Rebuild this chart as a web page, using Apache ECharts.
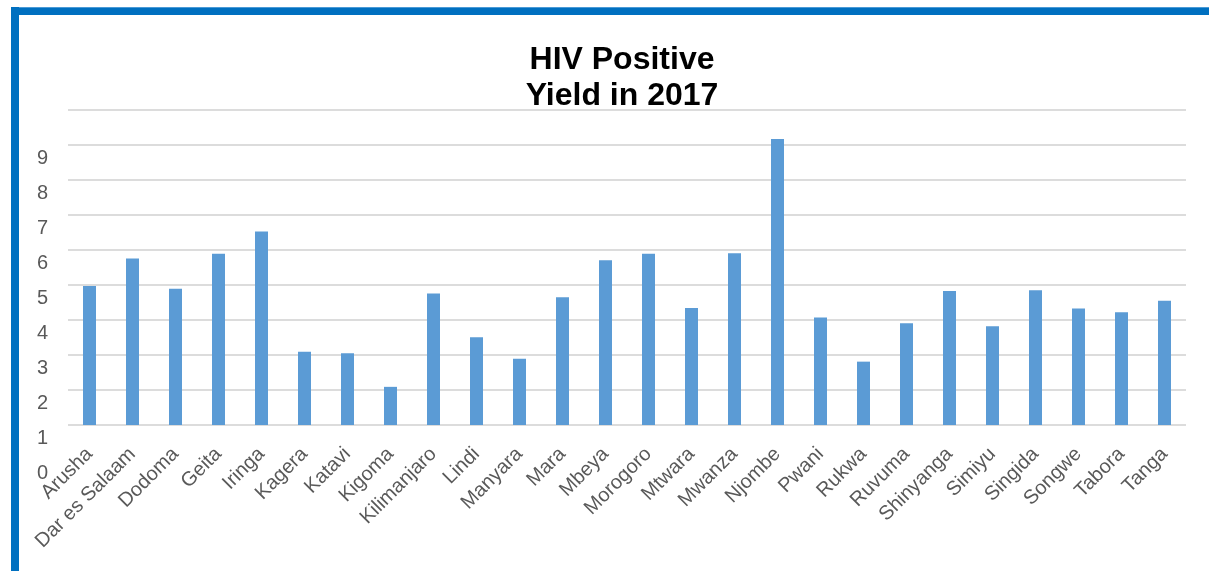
<!DOCTYPE html>
<html>
<head>
<meta charset="utf-8">
<script src="https://cdn.jsdelivr.net/npm/echarts@6/dist/echarts.min.js"></script>
<style>
  html, body { margin: 0; padding: 0; background: #fff; }
  #chart { width: 1209px; height: 571px; }
</style>
</head>
<body>
<div id="chart"></div>
<script>
// regions along the x axis
var regions = ['Arusha', 'Dar es Salaam', 'Dodoma', 'Geita', 'Iringa', 'Kagera', 'Katavi', 'Kigoma',
  'Kilimanjaro', 'Lindi', 'Manyara', 'Mara', 'Mbeya', 'Morogoro', 'Mtwara', 'Mwanza', 'Njombe',
  'Pwani', 'Rukwa', 'Ruvuma', 'Shinyanga', 'Simiyu', 'Singida', 'Songwe', 'Tabora', 'Tanga'];
// bar heights, read against the gridlines
var yieldValues = [3.97, 4.76, 3.89, 4.89, 5.53, 2.09, 2.05, 1.09,
  3.76, 2.51, 1.89, 3.65, 4.71, 4.89, 3.34, 4.91, 8.17,
  3.07, 1.81, 2.91, 3.83, 2.82, 3.85, 3.33, 3.22, 3.55];
// tick labels as printed on the left (they sit lower than the gridlines in the original)
var tickLabels = ['0', '1', '2', '3', '4', '5', '6', '7', '8', '9'];

var chart = echarts.init(document.getElementById('chart'));
chart.setOption({
  backgroundColor: '#fff',
  animation: false,
  title: {
    text: 'HIV Positive\nYield in 2017',
    left: 617,
    textAlign: 'center',
    top: 37,
    textStyle: {
      fontFamily: 'Liberation Sans',
      fontWeight: 'bold',
      fontSize: 32,
      lineHeight: 36,
      color: '#000'
    }
  },
  graphic: [
    { type: 'rect', shape: { x: 11, y: 7, width: 1198, height: 8 }, style: { fill: '#0070C0' } },
    { type: 'rect', shape: { x: 11, y: 7, width: 1198, height: 1 }, style: { fill: '#4a9ad6' } },
    { type: 'rect', shape: { x: 11, y: 7, width: 8, height: 564 }, style: { fill: '#0070C0' } }
  ],
  grid: [
    { left: 68, right: 23, top: 110, bottom: 146 },
    { left: 68, right: 23, top: 158, bottom: 98 }
  ],
  xAxis: [
    {
      type: 'category',
      gridIndex: 0,
      data: regions,
      axisLine: { show: false },
      axisTick: { show: false },
      axisLabel: {
        rotate: 45,
        interval: 0,
        margin: 26,
        fontFamily: 'Liberation Sans',
        fontSize: 20,
        color: '#595959'
      }
    },
    { type: 'value', gridIndex: 1, show: false }
  ],
  yAxis: [
    {
      type: 'value',
      gridIndex: 0,
      min: 0,
      max: 9,
      interval: 1,
      axisLine: { show: false },
      axisTick: { show: false },
      axisLabel: { show: false },
      splitLine: { lineStyle: { color: '#dcdcdc', width: 2 } }
    },
    {
      type: 'category',
      gridIndex: 1,
      data: tickLabels,
      boundaryGap: false,
      axisLine: { show: false },
      axisTick: { show: false },
      splitLine: { show: false },
      axisLabel: {
        interval: 0,
        margin: 20,
        fontFamily: 'Liberation Sans',
        fontSize: 20,
        color: '#595959'
      }
    }
  ],
  series: [
    {
      type: 'bar',
      xAxisIndex: 0,
      yAxisIndex: 0,
      data: yieldValues,
      barWidth: 13,
      itemStyle: { color: '#5B9BD5' }
    }
  ]
});
</script>
</body>
</html>
